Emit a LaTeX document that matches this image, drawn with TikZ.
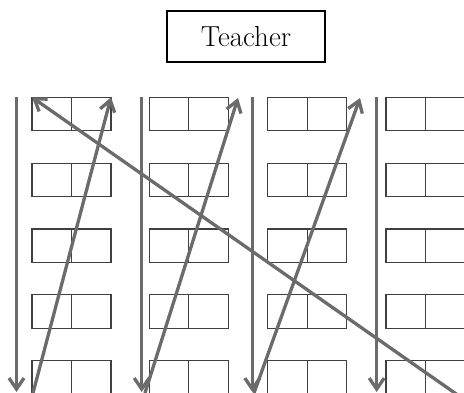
\documentclass[tikz,border=0pt]{standalone}
\usetikzlibrary{arrows.meta,positioning}
\begin{document}
\begin{tikzpicture}[x=1pt, y=-1pt, seat/.style={draw=black!75, line width=1.2pt, minimum width=39.5pt, minimum height=33.5pt, inner sep=0pt, outer sep=0pt}, walk/.style={draw=black!58, line width=3.3pt, -{Straight Barb[length=11pt, width=15pt]}}]
\useasboundingbox (0,0) rectangle (464,393);
\node[draw, line width=1.4pt, minimum width=158pt, minimum height=51pt, font=\fontsize{29}{30}\selectfont] (teacher) at (246,36.5) {Teacher};
% desks, two seats each
\foreach \c/\x in {1/32,2/149.3,3/267.7,4/386}
  \foreach \r in {1,...,5} {
    \node[seat, anchor=north west] (s\c-\r-a) at (\x,{97.3+65.85*(\r-1)}) {};
    \node[seat, right=0pt of s\c-\r-a] (s\c-\r-b) {};
  }
% aisle walks
\coordinate (d1top) at (16.5,97.5);
\coordinate (d1end) at (16.5,392);
\coordinate (d2top) at (141.7,97.5);
\coordinate (d2end) at (141.7,392);
\coordinate (d3top) at (252.3,97.5);
\coordinate (d3end) at (252.3,392);
\coordinate (d4top) at (376.7,97.5);
\coordinate (d4end) at (376.7,392);
\coordinate (u1low) at (33,393);
\coordinate (u2low) at (145,393);
\coordinate (u2tip) at (238,98);
\coordinate (u3low) at (254,393);
\coordinate (u3tip) at (360,98);
\coordinate (xlow) at (462,398);
\draw[walk] (d1top) -- (d1end);
\draw[walk] (d2top) -- (d2end);
\draw[walk] (d3top) -- (d3end);
\draw[walk] (d4top) -- (d4end);
\draw[walk] (u1low) -- (s1-1-b.north east);
\draw[walk] (u2low) -- (u2tip);
\draw[walk] (u3low) -- (u3tip);
\draw[walk] (xlow) -- (s1-1-a.north west);
\end{tikzpicture}
\end{document}
